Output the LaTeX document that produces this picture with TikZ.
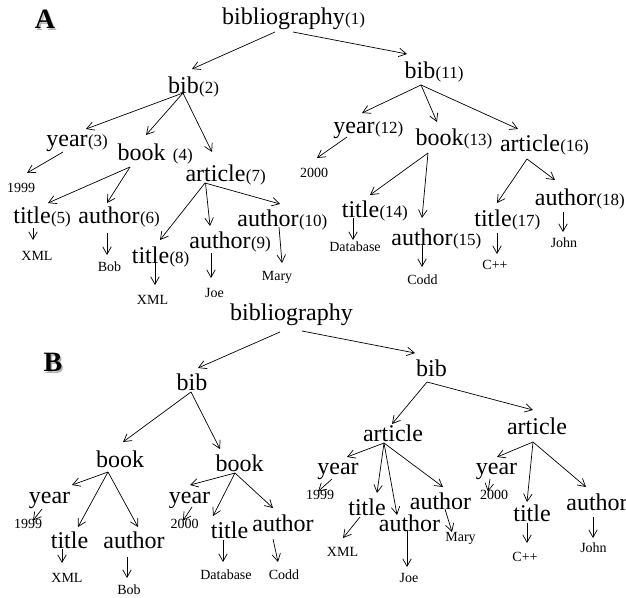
\documentclass[tikz,border=0pt]{standalone}
\usepackage{fontspec}
\setmainfont{Liberation Serif}
\usetikzlibrary{arrows.meta}
\begin{document}
\begin{tikzpicture}[x=1pt,y=-1pt,
  w/.style={font=\fontsize{24}{24}\selectfont, inner sep=0pt, anchor=base, text height=16.6pt, text depth=5.3pt},
  n/.style={font=\fontsize{17}{17}\selectfont, inner sep=0pt, anchor=base west},
  lf/.style={font=\fontsize{14}{14}\selectfont, inner sep=0pt, anchor=base},
  arr/.style={-{Straight Barb[length=7.5pt,width=8.5pt]}, line width=0.7pt},
  lab/.style={font=\fontsize{28}{28}\selectfont\bfseries, anchor=base, inner sep=0pt},
  shad/.style={lab, text=black!30}]
\useasboundingbox (0,0) rectangle (626,597);
% ---------------- labels
\node[shad] (labAs) at (46.5,30) {A};
\node[lab] (labA) at (45,28.5) {A};
\node[shad] (labBs) at (54.5,373) {B};
\node[lab] (labB) at (53,371.5) {B};
% ---------------- tree A nodes
\node[w] (bibl1) at (283.5,24) {bibliography};
\node[n] (bibl1n) at (bibl1.base east) {(1)};
\node[w] (bib2) at (183.5,93) {bib};
\node[n] (bib2n) at (bib2.base east) {(2)};
\node[w] (year3) at (67,146) {year};
\node[n] (year3n) at (year3.base east) {(3)};
\node[w] (book4) at (141.5,160) {book};
\node[n, xshift=7pt] (book4n) at (book4.base east) {(4)};
\node[w] (art7) at (215.5,181) {article};
\node[n] (art7n) at (art7.base east) {(7)};
\node[w] (title5) at (32,223) {title};
\node[n] (title5n) at (title5.base east) {(5)};
\node[w] (auth6) at (109,223) {author};
\node[n] (auth6n) at (auth6.base east) {(6)};
\node[w] (title8) at (150.5,263) {title};
\node[n] (title8n) at (title8.base east) {(8)};
\node[w] (auth9) at (220,248) {author};
\node[n] (auth9n) at (auth9.base east) {(9)};
\node[w] (auth10) at (268,226) {author};
\node[n] (auth10n) at (auth10.base east) {(10)};
\node[w] (bib11) at (420,78) {bib};
\node[n] (bib11n) at (bib11.base east) {(11)};
\node[w] (year12) at (354,133) {year};
\node[n] (year12n) at (year12.base east) {(12)};
\node[w] (book13) at (439.5,145) {book};
\node[n] (book13n) at (book13.base east) {(13)};
\node[w] (art16) at (530,151) {article};
\node[n] (art16n) at (art16.base east) {(16)};
\node[w] (title14) at (360.5,217) {title};
\node[n] (title14n) at (title14.base east) {(14)};
\node[w] (auth15) at (422,245) {author};
\node[n] (auth15n) at (auth15.base east) {(15)};
\node[w] (title17) at (493,226) {title};
\node[n] (title17n) at (title17.base east) {(17)};
\node[w] (auth18) at (565.5,205) {author};
\node[n] (auth18n) at (auth18.base east) {(18)};
% leaves A
\node[lf] (a1999) at (21,192.5) {1999};
\node[lf] (axml5) at (37,260.5) {XML};
\node[lf] (abob) at (109.5,271.5) {Bob};
\node[lf] (axml8) at (152.5,304.5) {XML};
\node[lf] (ajoe) at (214.5,297.5) {Joe};
\node[lf] (amary) at (277,280) {Mary};
\node[lf] (a2000) at (314,177.5) {2000};
\node[lf] (adb) at (355,251.5) {Database};
\node[lf] (acodd) at (422.5,284.5) {Codd};
\node[lf] (acpp) at (495,269.5) {C++};
\node[lf] (ajohn) at (564,247.5) {John};
% edges A
\draw[arr] ([shift={(-8.5,8)}]bibl1.base) -- ([shift={(8.5,-24)}]bib2.base);
\draw[arr] ([shift={(9.5,8)}]bibl1.base) -- ([shift={(-13,-24)}]bib11.base);
\draw[arr] ([shift={(-0.5,0)}]bib2.base) -- ([shift={(19,-17)}]year3.base);
\draw[arr] ([shift={(-0.5,0)}]bib2.base) -- ([shift={(4.5,-25)}]book4.base);
\draw[arr] ([shift={(-0.5,0)}]bib2.base) -- ([shift={(-3.5,-29)}]art7.base);
\draw[arr] ([shift={(-4,6)}]year3.base) -- ([shift={(6,-19.5)}]a1999.base);
\draw[arr] ([shift={(-11.5,7)}]book4.base) -- ([shift={(16,-20)}]title5.base);
\draw[arr] ([shift={(-11.5,7)}]book4.base) -- ([shift={(-2,-20)}]auth6.base);
\draw[arr] ([shift={(-10.5,2)}]art7.base) -- ([shift={(9.5,-23)}]title8.base);
\draw[arr] ([shift={(-10,2)}]art7.base) -- ([shift={(-10,-22)}]auth9.base);
\draw[arr] ([shift={(-10.5,2)}]art7.base) -- ([shift={(12,-22)}]auth10.base);
\draw[arr] ([shift={(1,5)}]title5.base) -- ([shift={(-4,-20.5)}]axml5.base);
\draw[arr] ([shift={(-2,10)}]auth6.base) -- ([shift={(-2.5,-16.5)}]abob.base);
\draw[arr] ([shift={(4.5,0)}]title8.base) -- ([shift={(2.5,-19.5)}]axml8.base);
\draw[arr] ([shift={(-9,5)}]auth9.base) -- ([shift={(-3.5,-19.5)}]ajoe.base);
\draw[arr] ([shift={(11,1)}]auth10.base) -- ([shift={(5,-17)}]amary.base);
\draw[arr] ([shift={(1,7)}]bib11.base) -- ([shift={(8,-20)}]year12.base);
\draw[arr] ([shift={(1,7)}]bib11.base) -- ([shift={(-2.5,-23)}]book13.base);
\draw[arr] ([shift={(1,7)}]bib11.base) -- ([shift={(-12,-22)}]art16.base);
\draw[arr] ([shift={(-7,4)}]year12.base) -- ([shift={(3,-19.5)}]a2000.base);
\draw[arr] ([shift={(-11.5,8)}]book13.base) -- ([shift={(9.5,-22)}]title14.base);
\draw[arr] ([shift={(-11.5,8)}]book13.base) -- ([shift={(0,-27)}]auth15.base);
\draw[arr] ([shift={(-3,8)}]art16.base) -- ([shift={(4,-23)}]title17.base);
\draw[arr] ([shift={(-3,8)}]art16.base) -- ([shift={(-10.5,-25)}]auth18.base);
\draw[arr] ([shift={(-7.5,1)}]title14.base) -- ([shift={(-2,-11.5)}]adb.base);
\draw[arr] ([shift={(0,0)}]auth15.base) -- ([shift={(-0.5,-17.5)}]acodd.base);
\draw[arr] ([shift={(4,7)}]title17.base) -- ([shift={(2,-15.5)}]acpp.base);
\draw[arr] ([shift={(-2.5,7)}]auth18.base) -- ([shift={(-1,-15.5)}]ajohn.base);
% ---------------- tree B nodes
\node[w] (bibl0) at (291.5,320) {bibliography};
\node[w] (bibL) at (192,390) {bib};
\node[w] (bookB1) at (120,467) {book};
\node[w] (bookB2) at (239.5,471) {book};
\node[w] (yearB1) at (49.5,503) {year};
\node[w] (titleB1) at (69.5,548) {title};
\node[w] (authB1) at (134,548) {author};
\node[w] (yearB2) at (189.5,503) {year};
\node[w] (titleB2) at (229.5,538) {title};
\node[w] (authB2) at (283,531) {author};
\node[w] (bibR) at (431.5,376) {bib};
\node[w] (artB3) at (393,441) {article};
\node[w] (artB4) at (537,434) {article};
\node[w] (yearB3) at (338,474) {year};
\node[w] (titleB3) at (367,515) {title};
\node[w] (authB3m) at (409.5,531) {author};
\node[w] (authB3r) at (440.5,509) {author};
\node[w] (yearB4) at (496.5,474) {year};
\node[w] (titleB4) at (532,521) {title};
\node[w] (authB4) at (597,510) {author};
% leaves B
\node[lf] (b1999a) at (28,528.5) {1999};
\node[lf] (bxml1) at (67,582.5) {XML};
\node[lf] (bbob) at (129,594) {Bob};
\node[lf] (b2000a) at (184.5,528.5) {2000};
\node[lf] (bdb) at (226,579.5) {Database};
\node[lf] (bcodd) at (284,579.5) {Codd};
\node[lf] (b1999b) at (320,499.5) {1999};
\node[lf] (bxml3) at (342.5,556.5) {XML};
\node[lf] (bjoe) at (409,582.5) {Joe};
\node[lf] (bmary) at (460.5,541) {Mary};
\node[lf] (b2000b) at (494,499.5) {2000};
\node[lf] (bcpp) at (525,561.5) {C++};
\node[lf] (bjohn) at (593.5,552.5) {John};
% edges B
\draw[arr] ([shift={(-11.5,12)}]bibl0.base) -- ([shift={(6,-22)}]bibL.base);
\draw[arr] ([shift={(10.5,11)}]bibl0.base) -- ([shift={(-16.5,-23)}]bibR.base);
\draw[arr] ([shift={(-1,2)}]bibL.base) -- ([shift={(3,-25)}]bookB1.base);
\draw[arr] ([shift={(-1,2)}]bibL.base) -- ([shift={(-19.5,-22)}]bookB2.base);
\draw[arr] ([shift={(-12,5)}]bookB1.base) -- ([shift={(22.5,-18)}]yearB1.base);
\draw[arr] ([shift={(-12,5)}]bookB1.base) -- ([shift={(8.5,-21)}]titleB1.base);
\draw[arr] ([shift={(-12,5)}]bookB1.base) -- ([shift={(4,-21)}]authB1.base);
\draw[arr] ([shift={(-7.5,6)}]yearB1.base) -- ([shift={(5,-8)}]b1999a.base);
\draw[arr] ([shift={(-7.5,1)}]titleB1.base) -- ([shift={(-5,-19.5)}]bxml1.base);
\draw[arr] ([shift={(-7,9)}]authB1.base) -- ([shift={(-2,-16)}]bbob.base);
\draw[arr] ([shift={(-4.5,2)}]bookB2.base) -- ([shift={(0.5,-18)}]yearB2.base);
\draw[arr] ([shift={(-4.5,2)}]bookB2.base) -- ([shift={(-16.5,-22)}]titleB2.base);
\draw[arr] ([shift={(-4.5,2)}]bookB2.base) -- ([shift={(-10,-23)}]authB2.base);
\draw[arr] ([shift={(2.5,4)}]yearB2.base) -- ([shift={(-1.5,-8)}]b2000a.base);
\draw[arr] ([shift={(-6.5,2)}]titleB2.base) -- ([shift={(-3,-17.5)}]bdb.base);
\draw[arr] ([shift={(-10,8)}]authB2.base) -- ([shift={(-6,-17.5)}]bcodd.base);
\draw[arr] ([shift={(-4.5,6)}]bibR.base) -- ([shift={(-1,-17)}]artB3.base);
\draw[arr] ([shift={(-4.5,6)}]bibR.base) -- ([shift={(-4,-24)}]artB4.base);
\draw[arr] ([shift={(-9,2)}]artB3.base) -- ([shift={(9,-17)}]yearB3.base);
\draw[arr] ([shift={(-9,2)}]artB3.base) -- ([shift={(10,-22)}]titleB3.base);
\draw[arr] ([shift={(-9,2)}]artB3.base) -- ([shift={(-12.5,-16)}]authB3m.base);
\draw[arr] ([shift={(-9,2)}]artB3.base) -- ([shift={(2.5,-22)}]authB3r.base);
\draw[arr] ([shift={(-6,5)}]yearB3.base) -- ([shift={(-2,-8)}]b1999b.base);
\draw[arr] ([shift={(-7,2)}]titleB3.base) -- ([shift={(0.5,-18.5)}]bxml3.base);
\draw[arr] ([shift={(-2.5,0)}]authB3m.base) -- ([shift={(-2,-15.5)}]bjoe.base);
\draw[arr] ([shift={(4.5,0)}]authB3r.base) -- ([shift={(-8.5,-9)}]bmary.base);
\draw[arr] ([shift={(-4,8)}]artB4.base) -- ([shift={(0.5,-17)}]yearB4.base);
\draw[arr] ([shift={(-4,8)}]artB4.base) -- ([shift={(-5,-19)}]titleB4.base);
\draw[arr] ([shift={(-4,8)}]artB4.base) -- ([shift={(-11,-23)}]authB4.base);
\draw[arr] ([shift={(-6.5,5)}]yearB4.base) -- ([shift={(-6,-8)}]b2000b.base);
\draw[arr] ([shift={(-5,2)}]titleB4.base) -- ([shift={(2,-18.5)}]bcpp.base);
\draw[arr] ([shift={(-4,7)}]authB4.base) -- ([shift={(-0.5,-14.5)}]bjohn.base);
\end{tikzpicture}
\end{document}
